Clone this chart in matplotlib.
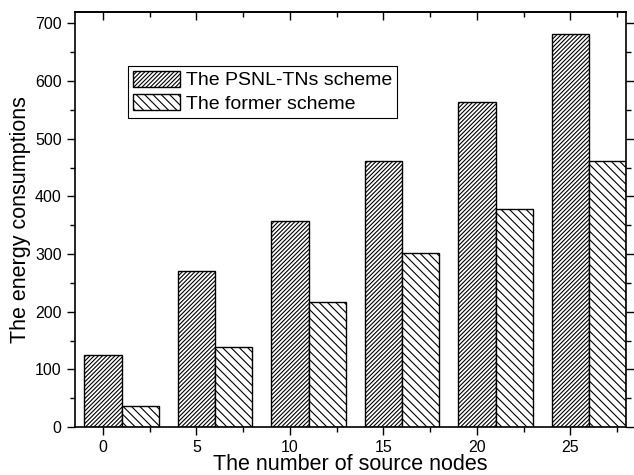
import numpy as np
import matplotlib
matplotlib.use('Agg')
import matplotlib.pyplot as plt
from matplotlib.ticker import MultipleLocator

plt.rcParams['font.family'] = ['Liberation Sans', 'DejaVu Sans']
plt.rcParams['hatch.linewidth'] = 0.8

nodes = [0, 5, 10, 15, 20, 25]
psnl = [125, 271, 357, 462, 563, 681]
former = [37, 139, 217, 301, 378, 462]

fig = plt.figure(figsize=(6.34, 4.75), dpi=100)
ax = fig.add_axes([0.118, 0.101, 0.870, 0.874])

x = np.array(nodes)
ax.bar(x, psnl, width=2, align='center', color='white', edgecolor='black',
       hatch='////////', linewidth=1.0, label='The PSNL-TNs scheme')
ax.bar(x + 2, former, width=2, align='center', color='white', edgecolor='black',
       hatch='\\\\\\\\', linewidth=1.0, label='The former scheme')

ax.set_xlim(-1.5, 28)
ax.set_ylim(0, 720)
ax.set_xticks(nodes)
ax.xaxis.set_minor_locator(MultipleLocator(2.5))
ax.yaxis.set_major_locator(MultipleLocator(100))
ax.yaxis.set_minor_locator(MultipleLocator(50))

ax.tick_params(axis='both', which='major', direction='out', length=6, width=1, labelsize=11.5)
ax.tick_params(axis='both', which='minor', direction='out', length=3.5, width=1)
ax.tick_params(axis='y', which='both', right=True)

# top ticks point inward, without labels
top = ax.secondary_xaxis('top')
top.set_xticks(nodes)
top.xaxis.set_minor_locator(MultipleLocator(2.5))
top.tick_params(which='major', direction='in', length=6, width=1, labeltop=False)
top.tick_params(which='minor', direction='in', length=3.5, width=1)

for s in ax.spines.values():
    s.set_linewidth(1.2)
top.spines['top'].set_linewidth(1.2)

ax.set_xlabel('The number of source nodes', fontsize=15.5, labelpad=-1)
ax.set_ylabel('The energy consumptions', fontsize=15.5, labelpad=3)

leg = ax.legend(loc='upper left', bbox_to_anchor=(0.097, 0.87), fontsize=14,
                frameon=True, fancybox=False, edgecolor='black', framealpha=1,
                handlelength=2.4, handleheight=0.9, handletextpad=0.3,
                borderpad=0.25, labelspacing=0.25, borderaxespad=0)
leg.get_frame().set_linewidth(0.8)

fig.savefig('out.png', dpi=100)
